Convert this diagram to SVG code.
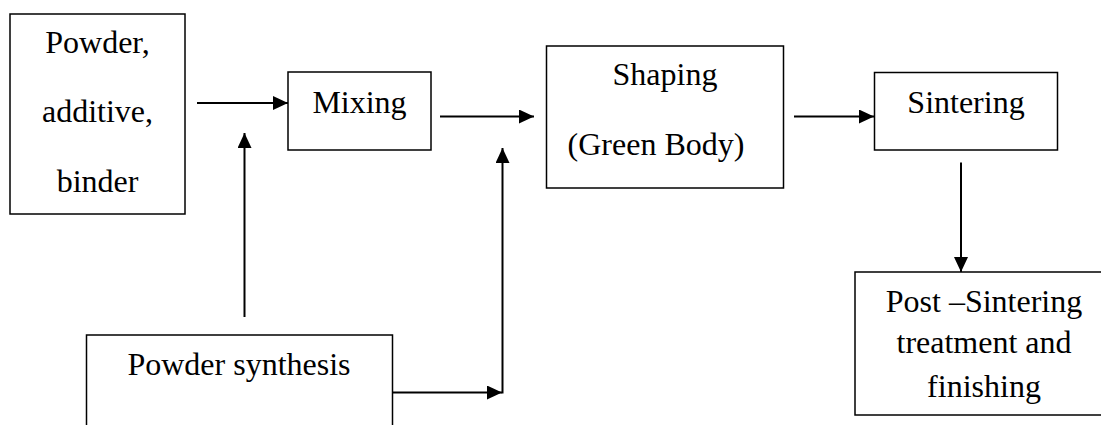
<svg xmlns="http://www.w3.org/2000/svg" width="1101" height="425" viewBox="0 0 1101 425">
<style>
.box{fill:#fff;stroke:#000;stroke-width:1.5}
.t{font-family:"Liberation Serif","Times New Roman",serif;font-size:32px;fill:#000;text-anchor:middle}
.c{fill:none;stroke:#000;stroke-width:2}
</style>
<defs>
<marker id="ah" markerUnits="userSpaceOnUse" markerWidth="16" markerHeight="14" refX="15" refY="7" orient="auto">
<path d="M0,0 L15,7 L0,14 z" fill="#000"/>
</marker>
</defs>
<rect width="1101" height="425" fill="#fff"/>
<g id="powder">
<rect class="box" x="10" y="14" width="175" height="200"/>
<text class="t" x="97.5" y="53">Powder,</text>
<text class="t" x="97.5" y="122">additive,</text>
<text class="t" x="97.5" y="192">binder</text>
</g>
<g id="mixing">
<rect class="box" x="288" y="72" width="143" height="78"/>
<text class="t" x="359.5" y="112.5">Mixing</text>
</g>
<g id="shaping">
<rect class="box" x="546.5" y="46" width="237" height="142"/>
<text class="t" x="665" y="85">Shaping</text>
<text class="t" x="656" y="155">(Green Body)</text>
</g>
<g id="sintering">
<rect class="box" x="874.5" y="72.5" width="183" height="77.5"/>
<text class="t" x="966" y="112.5">Sintering</text>
</g>
<g id="post">
<rect class="box" x="855" y="272" width="270" height="143"/>
<text class="t" x="984" y="311.5">Post –Sintering</text>
<text class="t" x="984" y="353">treatment and</text>
<text class="t" x="984" y="396.5">finishing</text>
</g>
<g id="synthesis">
<path class="box" d="M86.5,430 V335 H392.5 V430"/>
<text class="t" x="239" y="375">Powder synthesis</text>
</g>
<g id="connectors">
<path class="c" d="M197,103 H288" marker-end="url(#ah)"/>
<path class="c" d="M244.5,317 V133" marker-end="url(#ah)"/>
<path class="c" d="M440,116.5 H534" marker-end="url(#ah)"/>
<path class="c" d="M393,392.5 H502" marker-end="url(#ah)"/>
<path class="c" d="M502.5,393.5 V148" marker-end="url(#ah)"/>
<path class="c" d="M794,116.5 H874" marker-end="url(#ah)"/>
<path class="c" d="M961,162.5 V272" marker-end="url(#ah)"/>
</g>
</svg>
